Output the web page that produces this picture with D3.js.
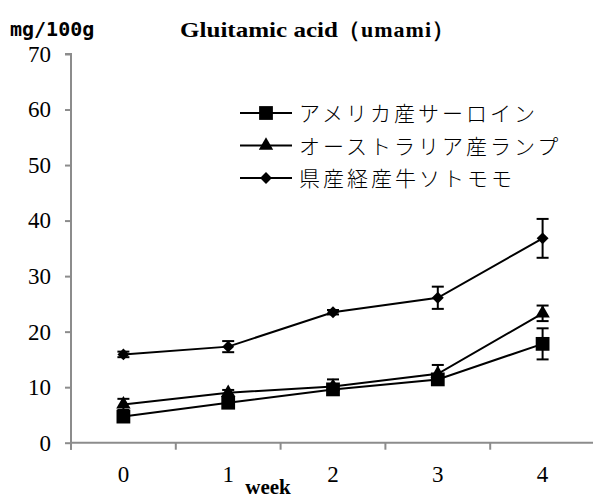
<!DOCTYPE html>
<html>
<head>
<meta charset="utf-8">
<script src="https://cdn.jsdelivr.net/npm/d3@7"></script>
<style>
  body { margin: 0; background: #fff; }
  svg { display: block; }
</style>
</head>
<body>
<svg id="chart" width="593" height="500"></svg>
<script>
// data
var weeks = ['0', '1', '2', '3', '4'];
var seriesNames = ['アメリカ産サーロイン', 'オーストラリア産ランプ', '県産経産牛ソトモモ'];
var sirloin = [4.7, 7.2, 9.6, 11.4, 17.8];
var sirloinErr = [0.8, 0.6, 0.5, 0.7, 2.8];
var rump = [6.9, 9.0, 10.1, 12.4, 23.3];
var rumpErr = [1.0, 0.5, 1.3, 1.6, 1.4];
var sotomomo = [15.9, 17.3, 23.5, 26.1, 36.8];
var sotomomoErr = [0.5, 1.0, 0.4, 2.0, 3.5];
var yTicks = [0, 10, 20, 30, 40, 50, 60, 70];

var svg = d3.select('#chart');
var plotLeft = 71, plotRight = 595, plotTop = 54, plotBottom = 442.7;
var serif = '"Liberation Serif", "Times New Roman", serif';

var x = d3.scaleBand().domain(weeks).range([plotLeft, plotRight]);
var y = d3.scaleLinear().domain([0, 70]).range([plotBottom, plotTop]);

// axes
var yAxis = svg.append('g')
    .attr('transform', 'translate(' + plotLeft + ',0)')
    .call(d3.axisLeft(y).tickValues(yTicks).tickSize(6).tickPadding(14));
var xAxis = svg.append('g')
    .attr('transform', 'translate(0,' + plotBottom + ')')
    .call(d3.axisBottom(x).tickSize(0).tickPadding(23));

// band boundary ticks on x axis
xAxis.selectAll('.bound')
    .data(weeks)
    .enter().append('line')
    .attr('x1', function (d) { return x(d); })
    .attr('x2', function (d) { return x(d); })
    .attr('y1', 0).attr('y2', 7);

[yAxis, xAxis].forEach(function (g) {
    g.attr('font-family', serif).attr('font-size', 23);
    g.select('.domain').attr('stroke', '#8c8c8c').attr('stroke-width', 2);
    g.selectAll('line').attr('stroke', '#8c8c8c').attr('stroke-width', 2);
    g.selectAll('text')
        .attr('fill', '#000')
        .style('font-family', serif)
        .style('font-size', '23px');
});
xAxis.select('.domain').attr('d', 'M' + plotLeft + ',0H' + plotRight);
yAxis.select('.domain').attr('d', 'M-6,' + plotTop + 'H0V' + (plotBottom + 7));

// series
var series = [
    { name: seriesNames[0], values: sirloin, err: sirloinErr, shape: d3.symbolSquare, size: 190 },
    { name: seriesNames[1], values: rump, err: rumpErr, shape: d3.symbolTriangle, size: 90 },
    { name: seriesNames[2], values: sotomomo, err: sotomomoErr, shape: d3.symbolDiamond2, size: 90 }
];

var cx = function (i) { return x(weeks[i]) + x.bandwidth() / 2; };
var line = d3.line()
    .x(function (d, i) { return cx(i); })
    .y(function (d) { return y(d); });

series.forEach(function (s) {
    var g = svg.append('g');

    // error bars
    s.values.forEach(function (v, i) {
        var px = cx(i), y1 = y(v + s.err[i]), y2 = y(v - s.err[i]);
        g.append('line')
            .attr('x1', px).attr('x2', px).attr('y1', y1).attr('y2', y2)
            .attr('stroke', '#000').attr('stroke-width', 2);
        [y1, y2].forEach(function (yy) {
            g.append('line')
                .attr('x1', px - 6).attr('x2', px + 6).attr('y1', yy).attr('y2', yy)
                .attr('stroke', '#000').attr('stroke-width', 2);
        });
    });

    g.append('path')
        .attr('d', line(s.values))
        .attr('fill', 'none')
        .attr('stroke', '#000')
        .attr('stroke-width', 2);

    g.selectAll('.pt')
        .data(s.values)
        .enter().append('path')
        .attr('transform', function (d, i) { return 'translate(' + cx(i) + ',' + y(d) + ')'; })
        .attr('d', d3.symbol().type(s.shape).size(s.size))
        .attr('fill', '#000');
});

// legend
var legend = svg.append('g').attr('transform', 'translate(240,113)');
series.forEach(function (s, i) {
    var row = legend.append('g').attr('transform', 'translate(0,' + (i * 32.5) + ')');
    row.append('line')
        .attr('x1', 0).attr('x2', 52).attr('y1', 0).attr('y2', 0)
        .attr('stroke', '#000').attr('stroke-width', 2);
    row.append('path')
        .attr('transform', 'translate(26,0)')
        .attr('d', d3.symbol().type(s.shape).size(s.size))
        .attr('fill', '#000');
    row.append('text')
        .attr('x', 59).attr('y', 8)
        .style('font-family', '"Noto Sans CJK JP", sans-serif')
        .style('font-size', '21px')
        .style('letter-spacing', '3px')
        .style('font-weight', '300')
        .text(s.name);
});

// titles
svg.append('text')
    .attr('x', 10).attr('y', 36)
    .style('font-family', '"DejaVu Sans Mono", monospace')
    .style('font-weight', 'bold')
    .style('font-size', '20px')
    .text('mg/100g');

svg.append('text')
    .attr('x', 180).attr('y', 37)
    .attr('textLength', 158)
    .attr('lengthAdjust', 'spacingAndGlyphs')
    .style('font-family', serif)
    .style('font-weight', 'bold')
    .style('font-size', '22px')
    .text('Gluitamic acid');

svg.append('text')
    .attr('x', 338).attr('y', 37)
    .style('font-family', serif)
    .style('font-weight', 'bold')
    .style('font-size', '22px')
    .style('letter-spacing', '1px')
    .text('（umami）');

svg.append('text')
    .attr('x', 268).attr('y', 494)
    .attr('text-anchor', 'middle')
    .style('font-family', serif)
    .style('font-weight', 'bold')
    .style('font-size', '21px')
    .text('week');
</script>
</body>
</html>
